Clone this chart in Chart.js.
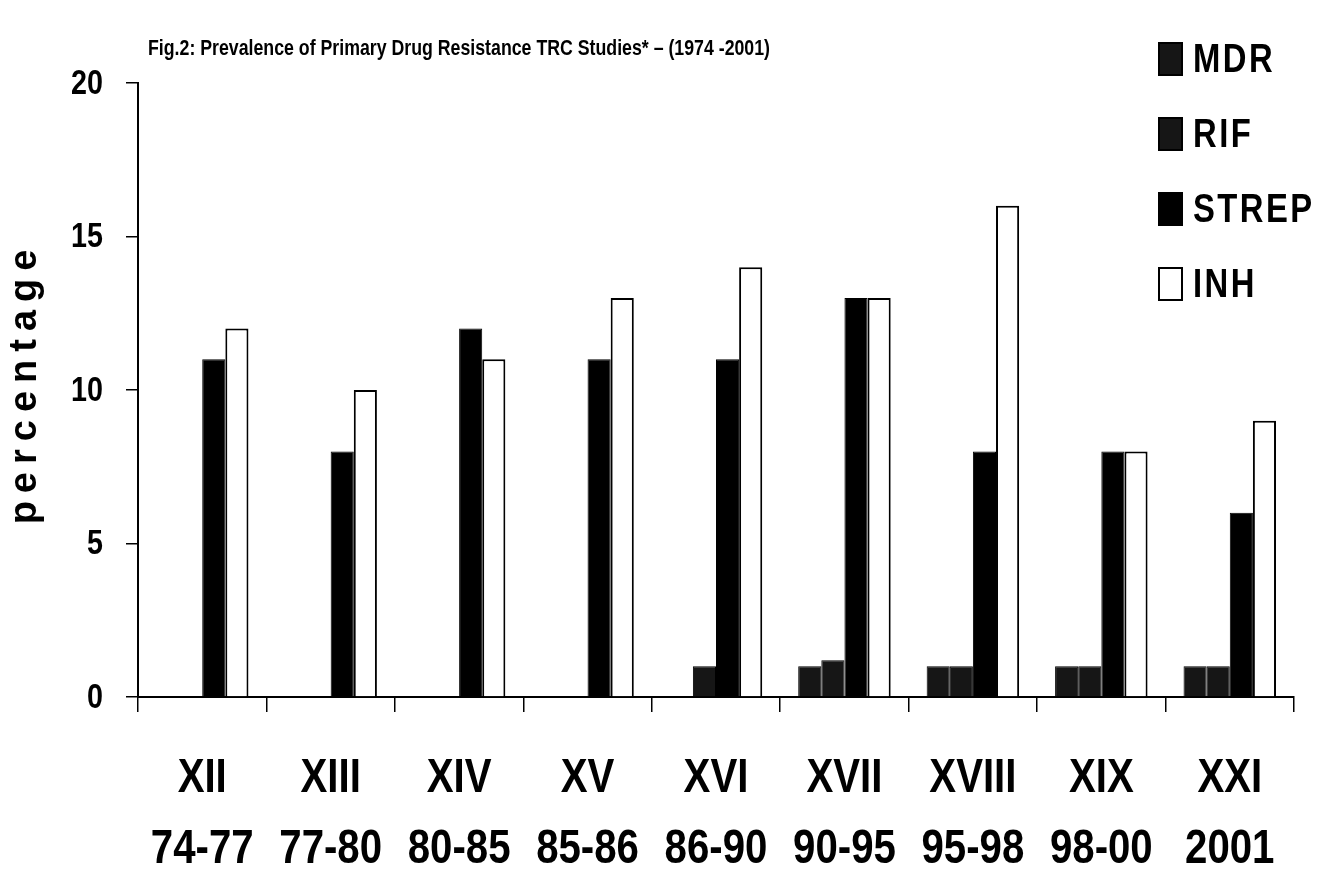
<!DOCTYPE html>
<html>
<head>
<meta charset="utf-8">
<title>Prevalence of Primary Drug Resistance</title>
<script src="https://cdn.jsdelivr.net/npm/chart.js@4.4.1/dist/chart.umd.min.js"></script>
<style>
  html, body { margin: 0; padding: 0; background: #fff; }
  #wrap { position: relative; width: 1328px; height: 870px; }
</style>
</head>
<body>
<div id="wrap"><canvas id="chart"></canvas></div>
<script>
// TRC study rounds (roman numeral) and the years they cover
const studies = ['XII', 'XIII', 'XIV', 'XV', 'XVI', 'XVII', 'XVIII', 'XIX', 'XXI'];
const periods = ['74-77', '77-80', '80-85', '85-86', '86-90', '90-95', '95-98', '98-00', '2001'];

// percentage resistant, one value per study
const mdr   = [0, 0, 0, 0, 0, 1, 1, 1, 1];
const rif   = [0, 0, 0, 0, 1, 1.2, 1, 1, 1];
const strep = [11, 8, 12, 11, 11, 13, 8, 8, 6];
const inh   = [12, 10, 11, 13, 14, 13, 16, 8, 9];

const yTicks = [0, 5, 10, 15, 20];

const chartTitle = 'Fig.2: Prevalence of Primary Drug Resistance TRC Studies* \u2013 (1974 -2001)';
const yTitle = 'percentage';

const SANS = '"Liberation Sans", Arial, sans-serif';
// no Arial Narrow here, so squeeze Liberation Sans sideways instead
const NARROW_X = 0.82;

function narrowText(ctx, text, x, y, squeeze) {
  ctx.save();
  ctx.translate(x, y);
  ctx.scale(squeeze, 1);
  ctx.fillText(text, 0, 0);
  ctx.restore();
}

// tick labels, title, rotated axis title and legend are painted after the chart
const extras = {
  id: 'extras',
  afterDraw(chart) {
    const ctx = chart.ctx;
    const xs = chart.scales.x;
    const ys = chart.scales.y;
    ctx.save();
    ctx.fillStyle = '#000';

    // x labels: study on top, years below
    ctx.font = 'bold 49px ' + SANS;
    ctx.textAlign = 'center';
    ctx.textBaseline = 'middle';
    chart.data.labels.forEach((lines, i) => {
      const px = xs.getPixelForTick(i);
      lines.forEach((line, j) => narrowText(ctx, line, px, 778 + j * 71, NARROW_X));
    });

    // y labels
    ctx.font = 'bold 35px ' + SANS;
    ctx.textAlign = 'right';
    ctx.textBaseline = 'middle';
    ys.ticks.forEach(t => {
      narrowText(ctx, String(t.value), 103, ys.getPixelForValue(t.value) + 1, NARROW_X);
    });

    // title top left
    ctx.font = 'bold 22px ' + SANS;
    ctx.textAlign = 'left';
    ctx.textBaseline = 'alphabetic';
    const tw = ctx.measureText(chartTitle).width;
    narrowText(ctx, chartTitle, 148, 55, 622 / tw);

    // y axis title
    ctx.save();
    ctx.translate(36, 387);
    ctx.rotate(-Math.PI / 2);
    ctx.font = 'bold 38px ' + SANS;
    ctx.letterSpacing = '8px';
    ctx.textAlign = 'center';
    ctx.textBaseline = 'alphabetic';
    ctx.fillText(yTitle, 4, 0);
    ctx.restore();

    // legend, top right
    ctx.font = 'bold 40px ' + SANS;
    ctx.letterSpacing = '3px';
    ctx.textAlign = 'left';
    ctx.textBaseline = 'middle';
    chart.data.datasets.forEach((ds, i) => {
      const cy = 59 + i * 75;
      ctx.fillStyle = ds.backgroundColor;
      ctx.fillRect(1158, cy - 17, 25, 34);
      ctx.lineWidth = 2;
      ctx.strokeStyle = '#000';
      ctx.strokeRect(1159, cy - 16, 23, 32);
      ctx.fillStyle = '#000';
      narrowText(ctx, ds.label, 1193, cy + 2, NARROW_X);
    });
    ctx.restore();
  }
};

const ctx = document.getElementById('chart').getContext('2d');

new Chart(ctx, {
  type: 'bar',
  data: {
    labels: studies.map((s, i) => [s, periods[i]]),
    datasets: [
      { label: 'MDR', data: mdr, backgroundColor: '#161616', borderColor: '#000', borderWidth: 1 },
      { label: 'RIF', data: rif, backgroundColor: '#161616', borderColor: '#000', borderWidth: 1 },
      { label: 'STREP', data: strep, backgroundColor: '#000', borderColor: '#000', borderWidth: 1 },
      { label: 'INH', data: inh, backgroundColor: '#fff', borderColor: '#000', borderWidth: 2 }
    ]
  },
  options: {
    responsive: true,
    maintainAspectRatio: false,
    animation: false,
    layout: {
      padding: { top: 83, right: 34, bottom: 0, left: 0 }
    },
    datasets: {
      bar: {
        categoryPercentage: 0.72,
        barPercentage: 1.0
      }
    },
    scales: {
      x: {
        afterFit(scale) { scale.height = 173; },
        grid: {
          offset: true,
          drawOnChartArea: false,
          drawTicks: true,
          tickLength: 15,
          color: '#000',
          lineWidth: 1.5
        },
        border: { display: true, color: '#000', width: 2 },
        ticks: { display: false, autoSkip: false }
      },
      y: {
        min: 0,
        max: 20,
        afterFit(scale) { scale.width = 138; },
        afterBuildTicks(scale) { scale.ticks = yTicks.map(v => ({ value: v })); },
        grid: {
          drawOnChartArea: false,
          drawTicks: true,
          tickLength: 12,
          color: '#000',
          lineWidth: 1.5
        },
        border: { display: true, color: '#000', width: 2 },
        ticks: { display: false }
      }
    },
    plugins: {
      legend: { display: false },
      tooltip: { enabled: false }
    }
  },
  plugins: [extras]
});
</script>
</body>
</html>
